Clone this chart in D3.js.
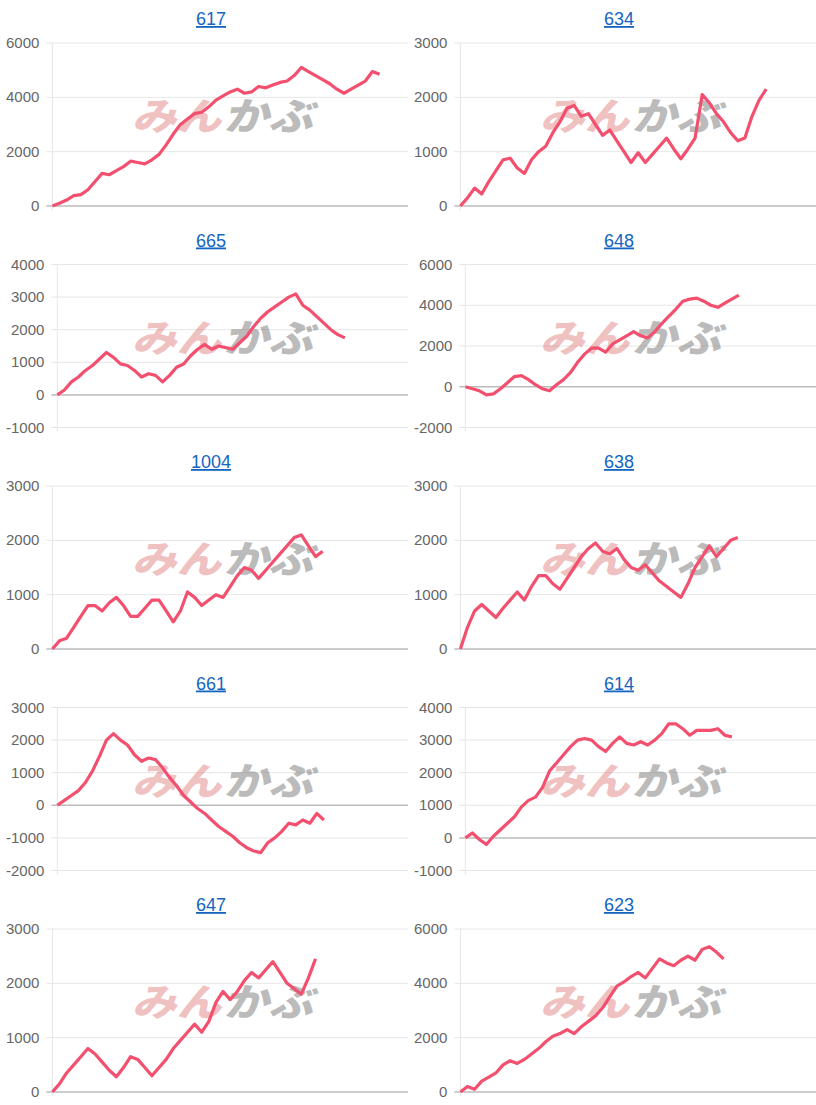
<!DOCTYPE html>
<html>
<head>
<meta charset="utf-8">
<script src="https://cdn.jsdelivr.net/npm/d3@7"></script>
<style>
  body { margin: 0; background: #fff; }
  svg { font-family: "Liberation Sans", Arial, sans-serif; }
</style>
</head>
<body>
<svg id="chart" width="816" height="1105"></svg>
<script>
// panel titles, in reading order (left, right per row)
const titles = ['617', '634', '665', '648', '1004', '638', '661', '614', '647', '623']

// y axis ticks per panel
const ticks617 = [0, 2000, 4000, 6000]
const ticks634 = [0, 1000, 2000, 3000]
const ticks665 = [-1000, 0, 1000, 2000, 3000, 4000]
const ticks648 = [-2000, 0, 2000, 4000, 6000]
const ticks1004 = [0, 1000, 2000, 3000]
const ticks638 = [0, 1000, 2000, 3000]
const ticks661 = [-2000, -1000, 0, 1000, 2000, 3000]
const ticks614 = [-1000, 0, 1000, 2000, 3000, 4000]
const ticks647 = [0, 1000, 2000, 3000]
const ticks623 = [0, 2000, 4000, 6000]

// cumulative values, one per step
const s617 = [0,100,220,380,420,600,900,1200,1150,1300,1450,1650,1600,1550,1700,1900,2250,2650,3000,3200,3400,3450,3650,3900,4050,4200,4300,4150,4200,4400,4350,4450,4550,4600,4800,5100,4950,4800,4650,4500,4300,4150,4300,4450,4600,4950,4850]
const s634 = [0,150,330,220,450,650,850,880,700,600,850,1000,1100,1350,1550,1800,1850,1650,1700,1500,1300,1400,1200,1000,800,980,800,950,1100,1250,1050,870,1050,1250,2050,1900,1700,1550,1350,1200,1250,1650,1950,2150]
const s665 = [0,150,400,550,750,900,1100,1300,1150,950,900,750,550,650,600,400,600,850,950,1200,1400,1550,1400,1500,1450,1400,1600,1800,2100,2350,2550,2700,2850,3000,3100,2750,2600,2400,2200,2000,1850,1750]
const s648 = [0,-100,-200,-400,-350,-100,200,500,550,350,100,-100,-200,100,350,700,1200,1600,1900,1900,1700,2100,2300,2500,2700,2500,2400,2700,3100,3450,3800,4200,4300,4350,4200,4000,3900,4100,4300,4500]
const s1004 = [0,150,200,400,600,800,800,700,850,950,800,600,600,750,900,900,700,500,700,1050,950,800,900,1000,950,1150,1350,1500,1450,1300,1450,1600,1750,1900,2050,2100,1900,1700,1800]
const s638 = [0,400,700,820,700,580,750,900,1050,900,1150,1350,1350,1200,1100,1300,1500,1700,1850,1950,1800,1750,1850,1650,1500,1450,1550,1400,1250,1150,1050,950,1200,1500,1700,1900,1700,1850,2000,2050]
const s661 = [0,150,300,450,700,1050,1500,2000,2200,2000,1850,1550,1350,1450,1400,1150,850,600,300,100,-100,-250,-450,-650,-800,-950,-1150,-1300,-1400,-1450,-1150,-1000,-800,-550,-600,-450,-550,-250,-450]
const s614 = [0,150,-50,-200,50,250,450,650,950,1150,1250,1550,2050,2300,2550,2800,3000,3050,3000,2800,2650,2900,3100,2900,2850,2950,2850,3000,3200,3500,3500,3350,3150,3300,3300,3300,3350,3150,3100]
const s647 = [0,150,350,500,650,800,700,550,400,280,450,650,600,450,300,450,600,800,950,1100,1250,1100,1300,1650,1850,1700,1850,2050,2200,2100,2250,2400,2200,2000,1900,1800,2100,2450]
const s623 = [0,200,100,400,550,700,1000,1150,1050,1200,1400,1600,1850,2050,2150,2300,2150,2400,2600,2800,3100,3500,3900,4050,4250,4400,4200,4550,4900,4750,4650,4850,5000,4850,5250,5350,5150,4900]

const series = [s617, s634, s665, s648, s1004, s638, s661, s614, s647, s623]
const tickSets = [ticks617, ticks634, ticks665, ticks648, ticks1004, ticks638, ticks661, ticks614, ticks647, ticks623]
const steps = 50

const svg = d3.select('#chart')
const panelW = 408, rowH = 221.5, plotH = 163

titles.forEach((title, k) => {
  const px = (k % 2) * panelW
  const top = 43 + Math.floor(k / 2) * rowH
  const ticks = tickSets[k]
  const g = svg.append('g')

  // widest tick label decides where the axis sits
  const probe = g.append('text').attr('font-size', 15)
    .text(ticks.reduce((a, b) => String(b).length > String(a).length ? b : a))
  const lw = probe.node().getComputedTextLength()
  probe.remove()
  const left = px + lw + 19
  const right = px + panelW

  const x = d3.scaleLinear().domain([0, steps]).range([left, right])
  const y = d3.scaleLinear().domain(d3.extent(ticks)).range([top + plotH, top])

  g.append('text')
    .attr('x', px + panelW / 2 + 7).attr('y', top - 18)
    .attr('text-anchor', 'middle').attr('font-size', 18)
    .attr('fill', '#1565c0').attr('text-decoration', 'underline')
    .text(title)

  g.selectAll('.grid').data(ticks).join('line')
    .attr('x1', left - 6).attr('x2', right)
    .attr('y1', d => y(d)).attr('y2', d => y(d))
    .attr('stroke', d => d === 0 ? '#bbb' : '#e6e6e6')
    .attr('stroke-width', d => d === 0 ? 1.5 : 1)
  g.append('line')
    .attr('x1', left).attr('x2', left).attr('y1', top).attr('y2', top + plotH + 4)
    .attr('stroke', '#e6e6e6')

  g.selectAll('.tl').data(ticks).join('text')
    .attr('x', left - 13).attr('y', d => y(d) + 5)
    .attr('text-anchor', 'end').attr('font-size', 15).attr('fill', '#666')
    .text(d => d)

  // watermark
  const wx = px + 132, wy = top + 87
  const wm = g.append('text')
    .attr('font-size', 40).attr('font-weight', 900)
    .attr('font-family', '"Noto Sans CJK JP", sans-serif')
    .attr('transform', `translate(${wx},${wy}) skewX(-14) scale(1.12,0.95)`)
  wm.append('tspan').attr('fill', 'rgba(215,90,90,0.38)').text('みん')
  wm.append('tspan').attr('fill', 'rgba(120,120,120,0.5)').attr('dx', 2).text('かぶ')

  g.append('path')
    .datum(series[k])
    .attr('fill', 'none').attr('stroke', '#f2506e').attr('stroke-width', 3.2)
    .attr('stroke-linejoin', 'round')
    .attr('d', d3.line().x((d, i) => x(i)).y(d => y(d)))
})
</script>
</body>
</html>
